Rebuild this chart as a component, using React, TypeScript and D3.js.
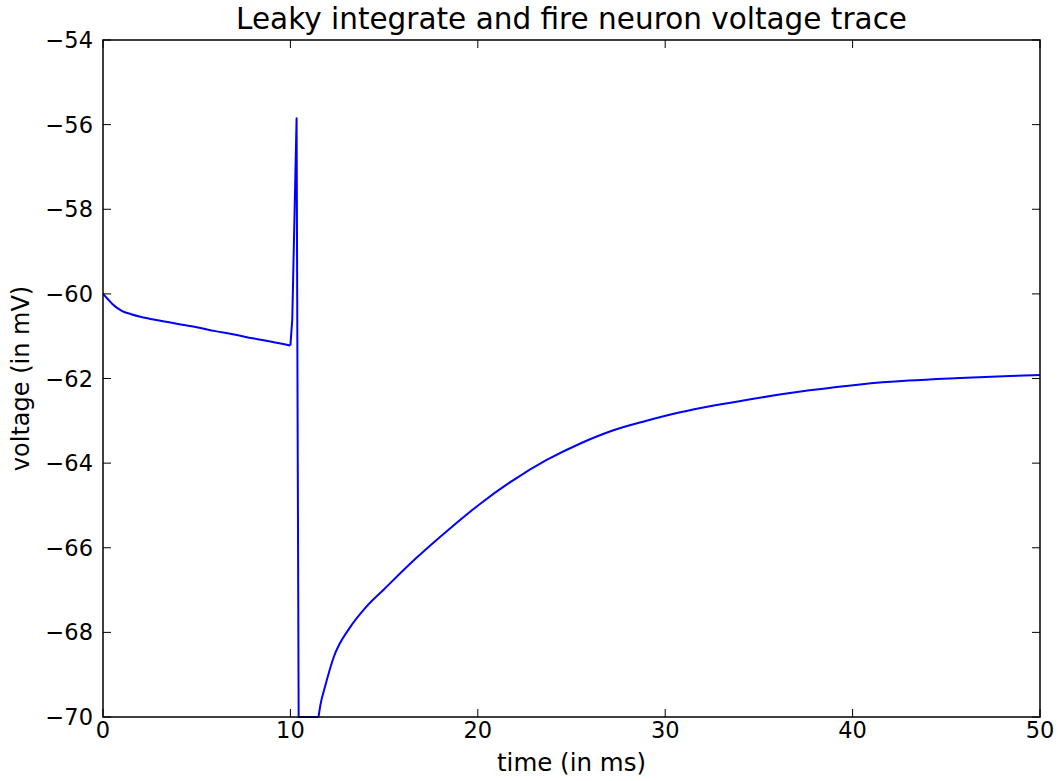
import React from "react";
import * as d3 from "d3";

// Membrane potential samples (time in ms, voltage in mV)
const timeMs: number[] = [
  0, 0.25, 0.5, 0.75, 1.0, 1.5, 2, 3, 4, 5, 6, 7, 8, 9, 10,
  10.1, 10.33, 10.44, 11.5, 11.6, 11.85, 12.3, 13.2, 14, 15, 16.7, 18.5, 20.1,
  21.9, 23.7, 25.5, 27.2, 29, 30.8, 32.6, 34.4, 36.1, 37.7, 40.4, 43, 45.7, 48.4, 50,
];
const voltageMv: number[] = [
  -60.0, -60.12, -60.24, -60.33, -60.4, -60.48, -60.54, -60.63, -60.71, -60.79, -60.88, -60.96, -61.05, -61.13, -61.22,
  -60.6, -55.85, -70, -70, -69.72, -69.28, -68.6, -67.87, -67.42, -66.98, -66.25, -65.55, -64.97,
  -64.4, -63.92, -63.53, -63.23, -63.0, -62.8, -62.64, -62.5, -62.38, -62.28, -62.14, -62.05, -61.99, -61.94, -61.92,
];

// spike onset and end of the refractory reset (ms)
const spikeStart = 10;
const refractoryEnd = 11.5;

const xTicks: number[] = [0, 10, 20, 30, 40, 50];
const yTicks: number[] = [-70, -68, -66, -64, -62, -60, -58, -56, -54];

const TITLE = "Leaky integrate and fire neuron voltage trace";
const X_LABEL = "time (in ms)";
const Y_LABEL = "voltage (in mV)";

const W = 1058;
const H = 781;
const M = { left: 103, right: 1040, top: 40, bottom: 717 };
const FONT = "'DejaVu Sans', sans-serif";

export default function App() {
  const x = d3.scaleLinear().domain([0, 50]).range([M.left, M.right]);
  const y = d3.scaleLinear().domain([-70, -54]).range([M.bottom, M.top]);

  const points: [number, number][] = timeMs.map((t, i) => [t, voltageMv[i]]);
  const smooth = d3
    .line<[number, number]>()
    .x((d) => x(d[0]))
    .y((d) => y(d[1]))
    .curve(d3.curveMonotoneX);
  const straight = d3
    .line<[number, number]>()
    .x((d) => x(d[0]))
    .y((d) => y(d[1]));

  // subthreshold segments are smooth, the spike and reset are straight jumps
  const before = points.filter((p) => p[0] <= spikeStart);
  const spike = points.filter((p) => p[0] >= spikeStart && p[0] <= refractoryEnd);
  const after = points.filter((p) => p[0] >= refractoryEnd);

  const tickLen = 8;
  const fmt = (v: number) => (v < 0 ? "\u2212" + Math.abs(v) : String(v));
  const traceStyle = {
    fill: "none",
    stroke: "#0000ff",
    strokeWidth: 2,
    strokeLinejoin: "round" as const,
  };

  return (
    <svg
      width={W}
      height={H}
      style={{ position: "absolute", left: 0, top: 0, background: "#fff" }}
      fontFamily={FONT}
    >
      <rect x={0} y={0} width={W} height={H} fill="#fff" />
      <defs>
        <clipPath id="plot-clip">
          <rect x={M.left} y={M.top - 1} width={M.right - M.left} height={M.bottom - M.top + 2} />
        </clipPath>
      </defs>

      <g clipPath="url(#plot-clip)">
        <path d={smooth(before) ?? ""} {...traceStyle} />
        <path d={straight(spike) ?? ""} {...traceStyle} />
        <path d={smooth(after) ?? ""} {...traceStyle} />
      </g>

      {/* ticks on all four sides, pointing inward */}
      {xTicks.map((t) => (
        <g key={"xt" + t}>
          <line x1={x(t)} x2={x(t)} y1={M.bottom} y2={M.bottom - tickLen} stroke="#000" strokeWidth={1} />
          <line x1={x(t)} x2={x(t)} y1={M.top} y2={M.top + tickLen} stroke="#000" strokeWidth={1} />
          <text x={x(t)} y={738} fontSize={22.5} textAnchor="middle" fill="#000">
            {fmt(t)}
          </text>
        </g>
      ))}
      {yTicks.map((v) => (
        <g key={"yt" + v}>
          <line x1={M.left} x2={M.left + tickLen} y1={y(v)} y2={y(v)} stroke="#000" strokeWidth={1} />
          <line x1={M.right} x2={M.right - tickLen} y1={y(v)} y2={y(v)} stroke="#000" strokeWidth={1} />
          <text x={93} y={y(v)} dy="0.36em" fontSize={22.5} textAnchor="end" fill="#000">
            {fmt(v)}
          </text>
        </g>
      ))}

      <rect
        x={M.left}
        y={M.top}
        width={M.right - M.left}
        height={M.bottom - M.top}
        fill="none"
        stroke="#000"
        strokeWidth={1.5}
      />

      <text x={(M.left + M.right) / 2} y={29} fontSize={29.5} textAnchor="middle" fill="#000">
        {TITLE}
      </text>
      <text x={(M.left + M.right) / 2} y={771} fontSize={24.5} textAnchor="middle" fill="#000">
        {X_LABEL}
      </text>
      <text
        transform={`translate(29, ${(M.top + M.bottom) / 2}) rotate(-90)`}
        fontSize={24}
        textAnchor="middle"
        fill="#000"
      >
        {Y_LABEL}
      </text>
    </svg>
  );
}
